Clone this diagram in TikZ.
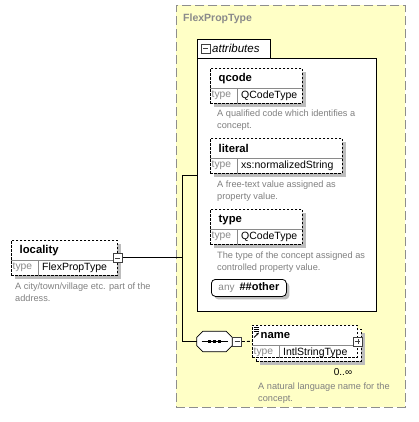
\documentclass[tikz,border=0pt]{standalone}
\usepackage{fontspec}
\setmainfont{Liberation Sans}
\usepackage{tikz}
\usetikzlibrary{shadows, arrows.meta, calc, positioning}
\definecolor{xsyellow}{HTML}{FFFFC6}
\definecolor{xsframe}{HTML}{8E8E8E}
\definecolor{xsgray}{HTML}{8A8A8A}
\definecolor{xsdesc}{HTML}{808080}
\definecolor{xsshadow}{HTML}{BDBDBD}
\tikzset{
  group/.style={rectangle, draw=xsframe, line width=0.8pt, dash pattern=on 9pt off 4pt,
    fill=xsyellow, anchor=north west},
  grouptitle/.style={anchor=west, inner sep=0pt, text=xsgray,
    font=\bfseries\fontsize{10.5}{12}\selectfont},
  attrbox/.style={rectangle, draw=black, line width=0.9pt, fill=white, anchor=north west},
  elem/.style={rectangle, draw=black, line width=0.8pt, dash pattern=on 2.5pt off 1.5pt,
    fill=white, anchor=north west, minimum height=35},
  shadowed/.style={drop shadow={shadow xshift=4pt, shadow yshift=-4pt, fill=xsshadow, opacity=1}},
  divider/.style={draw=xsgray, line width=0.6pt},
  elemname/.style={anchor=west, inner sep=0pt, font=\bfseries\fontsize{11.3}{13}\selectfont},
  typekey/.style={anchor=west, inner sep=0pt, text=xsgray, font=\fontsize{10.3}{12}\selectfont},
  typeval/.style={anchor=west, inner sep=0pt, font=\fontsize{10.5}{12}\selectfont},
  desc/.style={anchor=north west, align=left, inner sep=0pt, text=xsdesc,
    font=\fontsize{9.2}{11.5}\selectfont},
  minusbox/.style={rectangle, draw=black!75, fill=white, line width=0.6pt, minimum size=9pt,
    inner sep=0pt,
    path picture={\draw[line width=0.6pt] ([xshift=2pt]path picture bounding box.west)
      -- ([xshift=-2pt]path picture bounding box.east);}},
  plusbox/.style={rectangle, draw=black!75, fill=white, line width=0.6pt, minimum size=9pt,
    inner sep=0pt,
    path picture={\draw[line width=0.6pt] ([xshift=2pt]path picture bounding box.west)
      -- ([xshift=-2pt]path picture bounding box.east);
      \draw[line width=0.6pt] ([yshift=-2pt]path picture bounding box.north)
      -- ([yshift=2pt]path picture bounding box.south);}},
  seqbox/.style={rectangle, minimum width=35, minimum height=20, inner sep=0pt},
  anybox/.style={rectangle, rounded corners=4pt, draw=black, line width=0.8pt, fill=white,
    anchor=north west, minimum width=75, minimum height=17, inner sep=0pt,
    font=\fontsize{10}{12}\selectfont,
    drop shadow={shadow xshift=3pt, shadow yshift=-3pt, fill=xsshadow, opacity=1}},
  conn/.style={draw=black, line width=0.9pt},
}

\begin{document}
\begin{tikzpicture}[x=1pt, y=-1pt]
  \useasboundingbox (0,0) rectangle (418,422);

  % --- complex type frame ---
  \node[group, minimum width=229, minimum height=402] (flex) at (176,5) {};
  \node[grouptitle] (flextitle) at (183,19) {FlexPropType};

  % --- attributes box ---
  \node[attrbox, minimum width=179, minimum height=253] (attrs) at (197,58) {};
  \filldraw[line width=0.9pt, fill=white] (attrs.north west) -- ++(0,-19) -| ($(attrs.north west)+(73,0)$) -- cycle;
  \node[minusbox] (attrminus) at (205.5,48.5) {};
  \node[anchor=west, inner sep=0pt, font=\itshape\fontsize{11.5}{13}\selectfont]
        (attrtitle) at (212,48.5) {attributes};

  % --- elements ---
  \node[elem, shadowed, minimum width=106] (locality) at (11,240) {};
  \node[elem, shadowed, minimum width=92]  (qcode)    at (210,68) {};
  \node[elem, shadowed, minimum width=132] (literal)  at (210,138) {};
  \node[elem, shadowed, minimum width=92]  (type)     at (210,209) {};
  \node[elem, shadowed, minimum width=105, minimum height=32] (nameback) at (256,329) {};
  \node[elem, minimum width=105, minimum height=32] (name) at (252,325) {};

  \foreach \el/\nm/\ty in {locality/locality/FlexPropType, qcode/qcode/QCodeType,
      literal/literal/xs:normalizedString, type/type/QCodeType, name/name/IntlStringType} {
    \draw[divider] ($(\el.north west)+(0,20)$) -- ($(\el.north east)+(0,20)$);
    \draw[divider] ($(\el.north west)+(27.5,20)$) -- ($(\el.south west)+(27.5,0)$);
    \node[elemname] (\el-title) at ($(\el.north west)+(8.5,10.5)$) {\nm};
    \node[typekey] (\el-key) at ($(\el.north west)+(1.5,27.5)$) {type};
    \node[typeval] (\el-val) at ($(\el.north west)+(31,27.5)$) {\ty};
  }

  % --- name icons ---
  \foreach \dy in {2,4,6}
    \draw[line width=0.6pt] ($(name.north west)+(1.5,\dy)$) -- ++(5,0);
  \draw[line width=0.8pt, -{Stealth[length=3pt]}] ($(name.north west)+(2,12.5)$) -- ++(5,-5);

  \node[anybox] (anyother) at (211,279)
        {\textcolor{xsgray}{any}\hspace{5pt}\textbf{\fontsize{11}{12}\selectfont\#\#other}};

  % --- descriptions ---
  \node[desc] (localitydesc) at (15,283) {A city/town/village etc. part of the\\address.};
  \node[desc] (qcodedesc)   at (217,110) {A qualified code which identifies a\\concept.};
  \node[desc] (literaldesc) at (217,181) {A free-text value assigned as\\property value.};
  \node[desc] (typedesc)    at (217,252) {The type of the concept assigned as\\controlled property value.};
  \node[desc] (namedesc)    at (258,383) {A natural language name for the\\concept.};
  \node[anchor=center, inner sep=0pt, font=\fontsize{10}{12}\selectfont] (namemult) at (343,372) {0..∞};

  % --- sequence compositor ---
  \node[seqbox] (seq) at (214.5,341.5) {};
  \fill[xsshadow, shift={(3,3)}]
    ($(seq.north west)+(6,0)$) -- ($(seq.north east)+(-6,0)$) -- ($(seq.north east)+(0,6)$)
    -- ($(seq.south east)+(0,-6)$) -- ($(seq.south east)+(-6,0)$) -- ($(seq.south west)+(6,0)$)
    -- ($(seq.south west)+(0,-6)$) -- ($(seq.north west)+(0,6)$) -- cycle;
  \filldraw[line width=0.8pt, fill=white]
    ($(seq.north west)+(6,0)$) -- ($(seq.north east)+(-6,0)$) -- ($(seq.north east)+(0,6)$)
    -- ($(seq.south east)+(0,-6)$) -- ($(seq.south east)+(-6,0)$) -- ($(seq.south west)+(6,0)$)
    -- ($(seq.south west)+(0,-6)$) -- ($(seq.north west)+(0,6)$) -- cycle;
  \draw[line width=0.8pt] ($(seq.center)+(-13,0)$) -- ($(seq.center)+(13,0)$);
  \foreach \dx in {-5,0,5}
    \fill ($(seq.center)+(\dx-1.5,-1.5)$) rectangle ($(seq.center)+(\dx+1.5,1.5)$);
  \node[minusbox, right=0pt of seq] (seqminus) {};

  % --- expanders ---
  \node[minusbox] (locminus) at (locality.east) {};
  \node[plusbox] (nameplus) at (name.east) {};

  % --- connectors ---
  \coordinate (jtop) at (182,175);
  \coordinate (jbot) at (182,341.5);
  \coordinate (jmid) at (jtop |- locminus.east);
  \draw[conn] (locminus.east) -- (jmid);
  \draw[conn] (jtop) -- (jbot);
  \draw[conn] (jtop) -- (jtop -| attrs.west);
  \draw[conn] (jbot) -- (seq.west);
  \draw[conn, dash pattern=on 3pt off 2pt] (seqminus.east) -- (name.west);

\end{tikzpicture}
\end{document}
